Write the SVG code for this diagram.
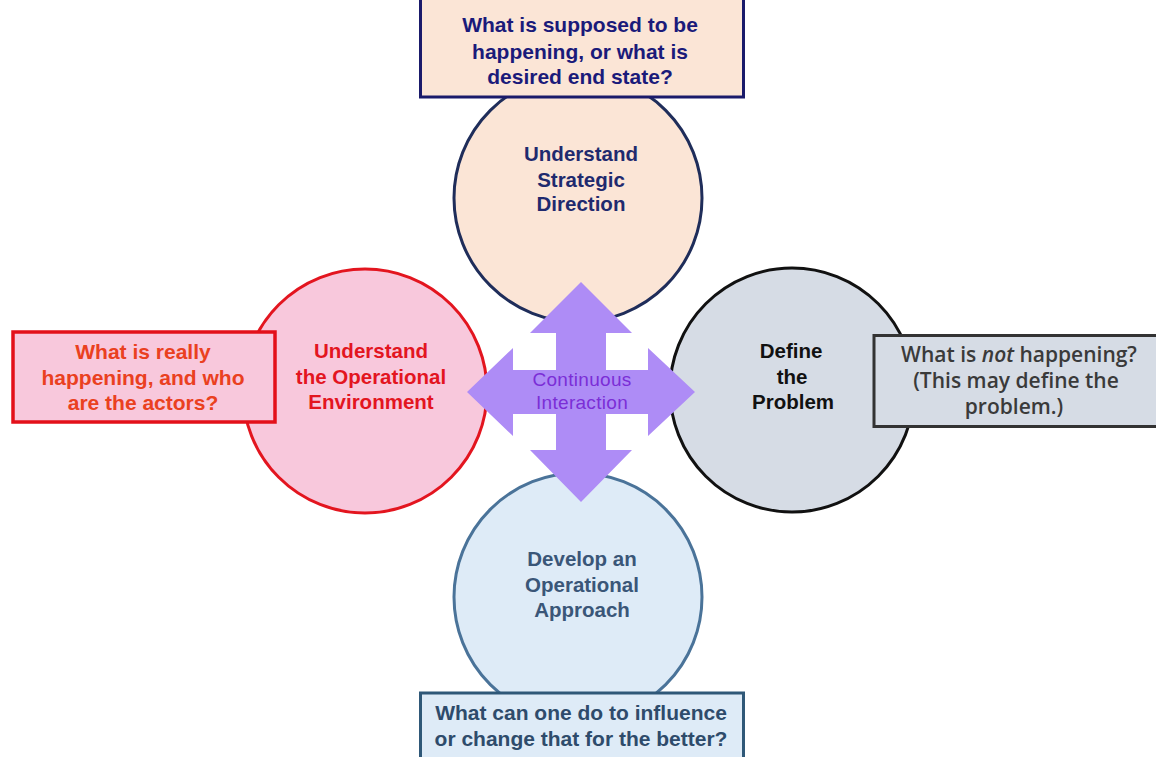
<svg xmlns="http://www.w3.org/2000/svg" width="1156" height="757" viewBox="0 0 1156 757">
<style>
.t{font-family:"Liberation Sans","Arial",sans-serif;font-weight:bold;text-anchor:middle}
.c{font-size:20.5px}
.b{font-size:21px}
.r{font-family:"Open Sans","Liberation Sans",sans-serif;font-weight:600;font-size:21px;text-anchor:middle}
.ci{font-family:"Liberation Sans","Arial",sans-serif;font-size:19px;letter-spacing:0.3px;text-anchor:middle;fill:#7B2ED6}
</style>
<rect width="1156" height="757" fill="#ffffff"/>
<g id="node-strategic">
<circle cx="578" cy="198" r="124" fill="#FBE5D6" stroke="#1F2D5A" stroke-width="3"/>
<text class="t c" fill="#1F2A6E" x="581" y="161">Understand</text>
<text class="t c" fill="#1F2A6E" x="581" y="187">Strategic</text>
<text class="t c" fill="#1F2A6E" x="581" y="211">Direction</text>
</g>
<g id="box-strategic">
<rect x="420.5" y="-5" width="323" height="102" fill="#FBE5D6" stroke="#1A1A6A" stroke-width="3"/>
<text class="t b" fill="#1A1A7A" x="580" y="32">What is supposed to be</text>
<text class="t b" fill="#1A1A7A" x="580" y="59">happening, or what is</text>
<text class="t b" fill="#1A1A7A" x="580" y="84">desired end state?</text>
</g>
<g id="node-environment">
<circle cx="365" cy="391" r="122" fill="#F8C8DC" stroke="#E3151F" stroke-width="3"/>
<text class="t c" fill="#E3151F" x="371" y="358">Understand</text>
<text class="t c" fill="#E3151F" x="371" y="384">the Operational</text>
<text class="t c" fill="#E3151F" x="371" y="409">Environment</text>
</g>
<g id="box-environment">
<rect x="13" y="332" width="262" height="90" fill="#F8C8DC" stroke="#E3101A" stroke-width="3.5"/>
<text class="t b" fill="#EA4020" x="143" y="359">What is really</text>
<text class="t b" fill="#EA4020" x="143" y="385">happening, and who</text>
<text class="t b" fill="#EA4020" x="143" y="410">are the actors?</text>
</g>
<g id="node-problem">
<circle cx="792" cy="390" r="122" fill="#D6DCE5" stroke="#111111" stroke-width="3"/>
<text class="t c" fill="#111111" x="791" y="358">Define</text>
<text class="t c" fill="#111111" x="792" y="384">the</text>
<text class="t c" fill="#111111" x="793" y="409">Problem</text>
</g>
<g id="box-problem">
<rect x="874" y="335.5" width="290" height="91" fill="#D6DCE5" stroke="#333333" stroke-width="3"/>
<text class="r" fill="#3A3A3A" x="1019" y="362">What is <tspan font-style="italic">not</tspan> happening?</text>
<text class="r" fill="#3A3A3A" x="1016" y="388">(This may  define the</text>
<text class="r" fill="#3A3A3A" x="1014" y="414">problem.)</text>
</g>
<g id="node-approach">
<circle cx="578" cy="597" r="124" fill="#DEEBF7" stroke="#4A7399" stroke-width="3"/>
<text class="t c" fill="#3A5678" x="582" y="566">Develop an</text>
<text class="t c" fill="#3A5678" x="582" y="592">Operational</text>
<text class="t c" fill="#3A5678" x="582" y="617">Approach</text>
</g>
<g id="box-approach">
<rect x="420.5" y="693" width="323" height="80" fill="#DEEBF7" stroke="#2F5878" stroke-width="3"/>
<text class="t b" fill="#2E4B6B" x="581" y="720">What can one do to influence</text>
<text class="t b" fill="#2E4B6B" x="581" y="746">or change that for the better?</text>
</g>
<g id="connectors">
<polygon fill="#AE8CF6" points="581,282 632,333 606,333 606,370 648,370 648,348 695,392 648,436 648,414 606,414 606,450 632,450 581,502 530,450 556,450 556,414 513,414 513,436 467,392 513,348 513,370 556,370 556,333 530,333"/>
<text class="ci" x="582" y="386">Continuous</text>
<text class="ci" x="582" y="409">Interaction</text>
</g>
</svg>
